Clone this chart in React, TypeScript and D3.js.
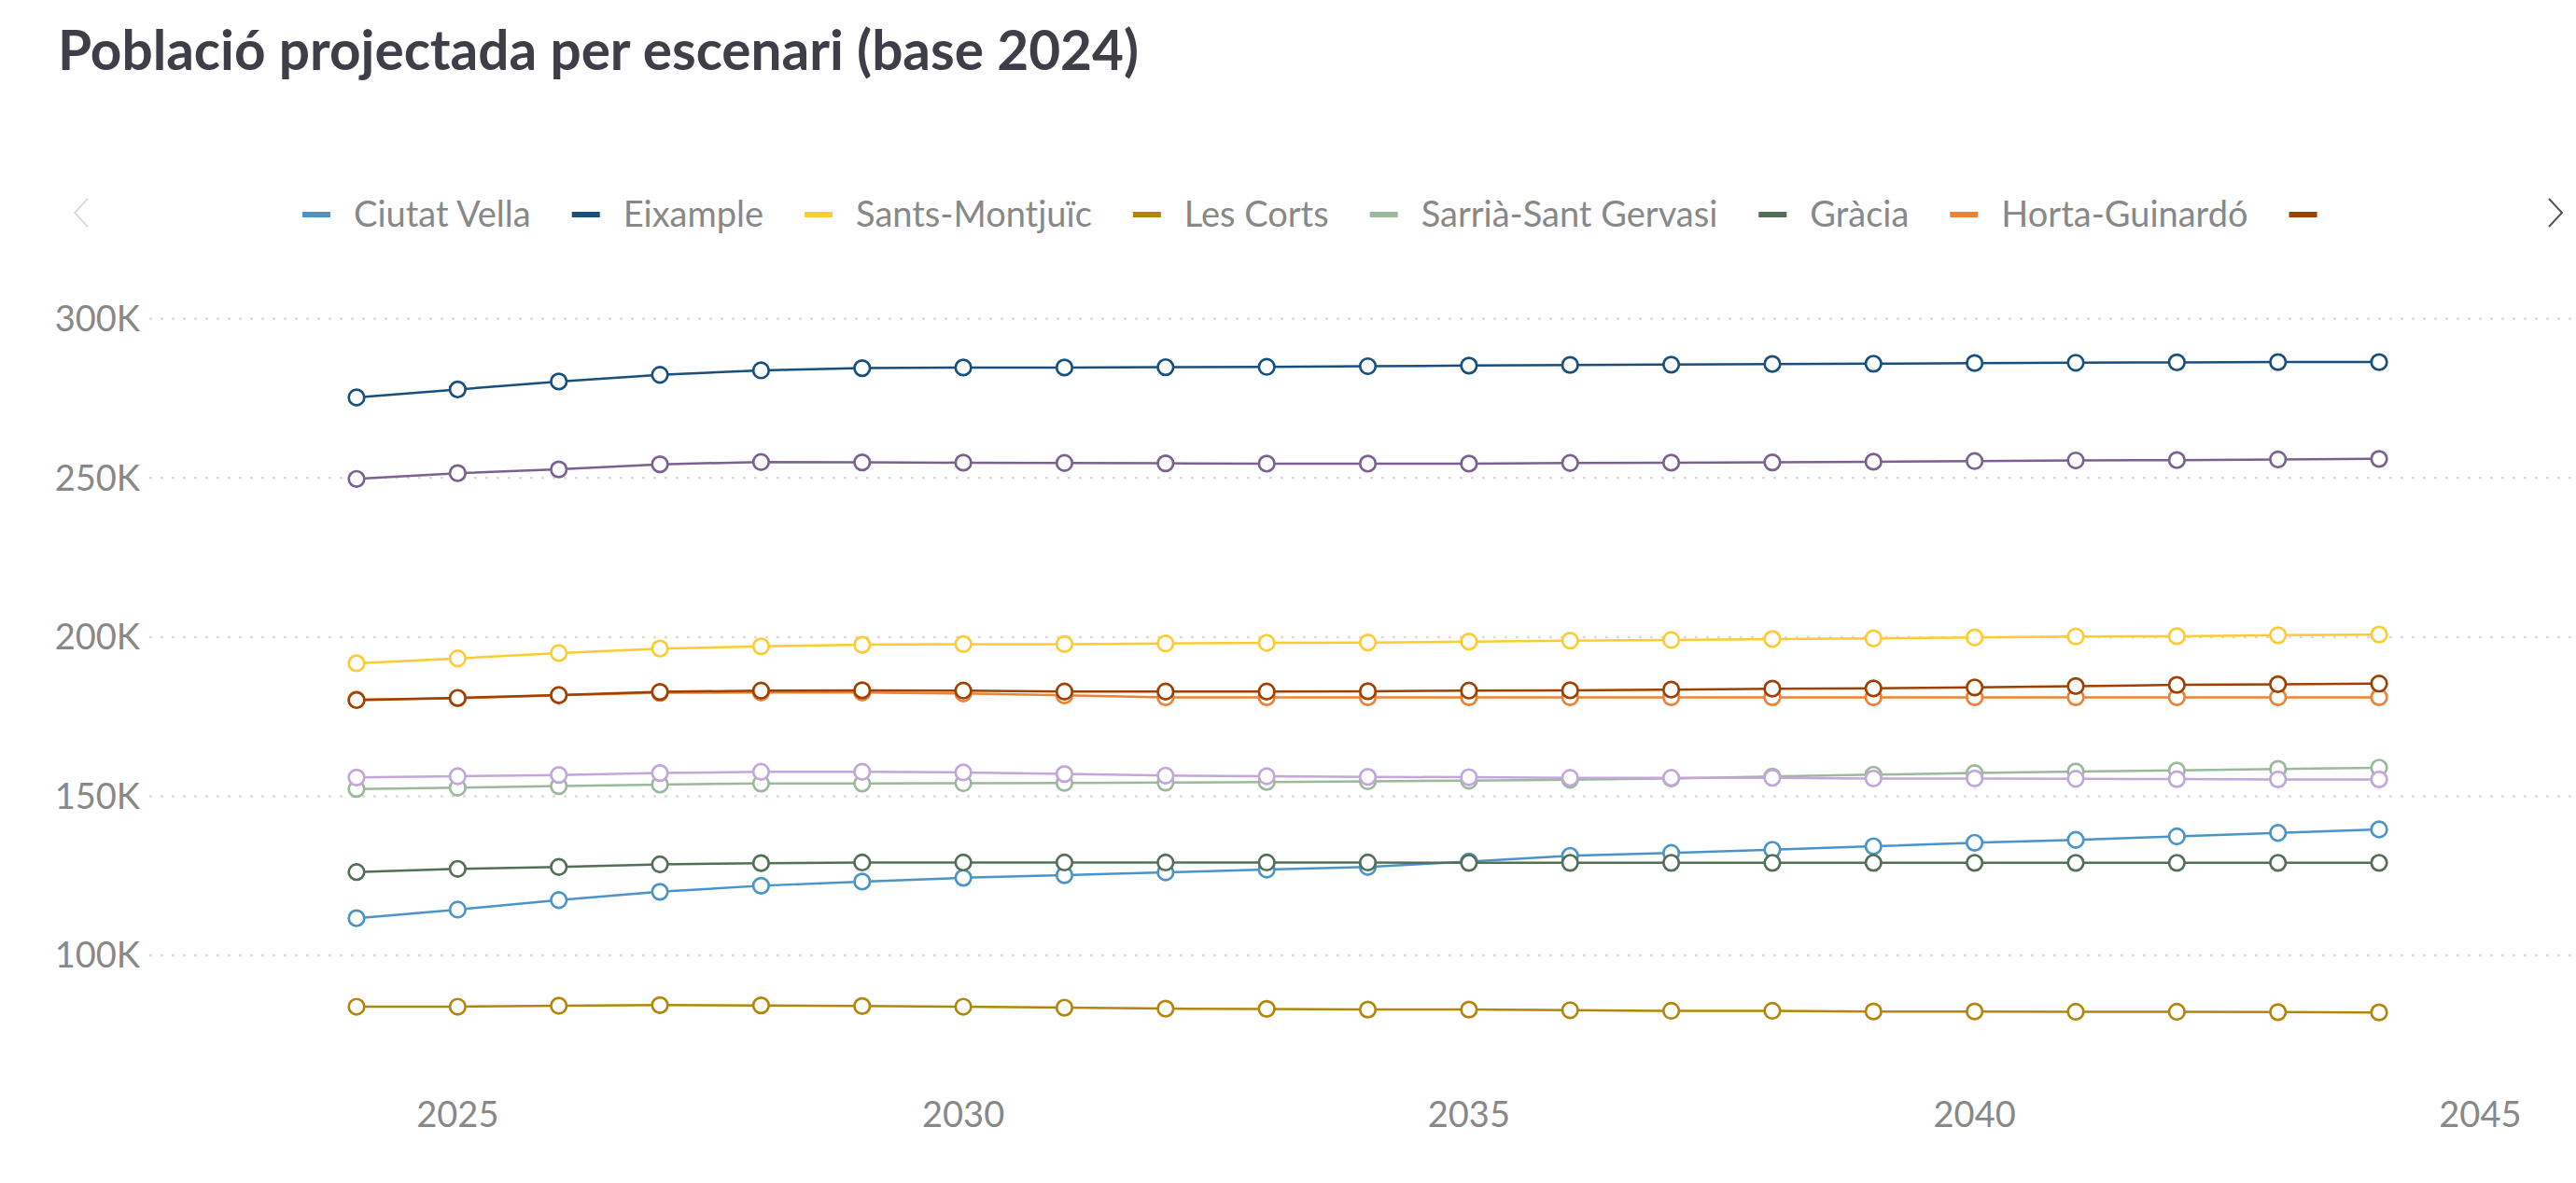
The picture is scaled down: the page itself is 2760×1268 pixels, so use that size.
import { useEffect, useRef } from "react";
import * as d3 from "d3";

// projection years and district series (population, persons)
const years = [2024, 2025, 2026, 2027, 2028, 2029, 2030, 2031, 2032, 2033, 2034, 2035, 2036, 2037, 2038, 2039, 2040, 2041, 2042, 2043, 2044];

const ciutatVella = [111700, 114400, 117400, 120000, 121900, 123200, 124400, 125200, 126100, 127000, 127800, 129500, 131300, 132200, 133200, 134300, 135400, 136300, 137400, 138500, 139600];
const eixample = [275300, 277800, 280300, 282400, 283800, 284500, 284700, 284700, 284800, 284900, 285100, 285300, 285500, 285600, 285800, 285900, 286100, 286200, 286300, 286400, 286400];
const santsMontjuic = [191800, 193300, 195000, 196400, 197100, 197600, 197800, 197800, 198000, 198200, 198300, 198600, 198900, 199100, 199400, 199600, 199900, 200200, 200300, 200600, 200800];
const lesCorts = [83900, 83900, 84200, 84400, 84300, 84100, 83900, 83600, 83300, 83200, 83000, 83000, 82800, 82600, 82600, 82400, 82400, 82300, 82300, 82200, 82100];
const sarriaSantGervasi = [152300, 152700, 153200, 153700, 154000, 154000, 154100, 154200, 154300, 154500, 154700, 154900, 155200, 155600, 156200, 156800, 157300, 157800, 158100, 158600, 159000];
const gracia = [126200, 127200, 127800, 128600, 129000, 129200, 129200, 129200, 129200, 129200, 129200, 129100, 129100, 129100, 129100, 129100, 129100, 129100, 129100, 129100, 129100];
const hortaGuinardo = [180400, 180800, 181700, 182500, 182600, 182600, 182300, 181700, 181100, 181100, 181100, 181100, 181100, 181100, 181100, 181100, 181100, 181100, 181100, 181100, 181100];
const nouBarris = [180200, 180900, 181800, 182800, 183200, 183300, 183200, 182900, 182900, 182900, 183000, 183200, 183300, 183500, 183800, 183900, 184200, 184600, 185000, 185200, 185400];
const santAndreu = [155900, 156300, 156700, 157300, 157700, 157700, 157500, 157000, 156500, 156300, 156100, 156000, 155800, 155800, 155800, 155600, 155600, 155500, 155400, 155300, 155300];
const santMarti = [249700, 251500, 252700, 254300, 255000, 254900, 254800, 254700, 254600, 254500, 254500, 254500, 254700, 254800, 254900, 255100, 255300, 255500, 255600, 255800, 256000];

const districtNames = ["Ciutat Vella", "Eixample", "Sants-Montjuïc", "Les Corts", "Sarrià-Sant Gervasi", "Gràcia", "Horta-Guinardó", "Nou Barris", "Sant Andreu", "Sant Martí"];
const districtValues = [ciutatVella, eixample, santsMontjuic, lesCorts, sarriaSantGervasi, gracia, hortaGuinardo, nouBarris, santAndreu, santMarti];
const districtColors = ["#4a94c9", "#17507f", "#ffcb33", "#b3860b", "#9bb99b", "#536f55", "#eb8236", "#a04000", "#c3a6dc", "#7b6192"];

// legend page: the first 7 names fit, the 8th only shows its swatch
const legendFullItems = 7;

const yTicks = [100000, 150000, 200000, 250000, 300000];
const xTicks = [2025, 2030, 2035, 2040, 2045];

const title = "Població projectada per escenari (base 2024)";

const W = 2760;
const H = 1268;
const FONT = "Lato, 'Noto Sans', sans-serif";

const Chart = () => {
  const ref = useRef<SVGSVGElement>(null);

  useEffect(() => {
    const svg = d3.select(ref.current);
    svg.selectAll("*").remove();

    const x = d3.scaleLinear().domain([2024, 2045]).range([382, 2657.4]);
    const y = d3.scaleLinear().domain([50000, 300000]).range([1194.7, 341.7]);

    // title
    svg.append("text")
      .attr("x", 62)
      .attr("y", 75)
      .attr("font-family", FONT)
      .attr("font-weight", 700)
      .attr("font-size", 58.5)
      .attr("fill", "#3e3e48")
      .text(title);

    // legend (scrolling page)
    const legend = svg.append("g");
    const legendY = 230;
    let cursor = 324;
    districtNames.slice(0, legendFullItems + 1).forEach((name, i) => {
      legend.append("rect")
        .attr("x", cursor)
        .attr("y", legendY - 3)
        .attr("width", 30)
        .attr("height", 6)
        .attr("fill", districtColors[i]);
      if (i >= legendFullItems) return;
      const t = legend.append("text")
        .attr("x", cursor + 55)
        .attr("y", legendY)
        .attr("dy", "0.35em")
        .attr("font-family", FONT)
        .attr("font-size", 38)
        .attr("fill", "#888888")
        .text(name);
      const w = (t.node() as SVGTextElement).getComputedTextLength();
      cursor += 55 + w + 44;
    });

    legend.append("polyline")
      .attr("points", "94,213 80,228 94,243")
      .attr("fill", "none")
      .attr("stroke", "#dddddd")
      .attr("stroke-width", 2);
    legend.append("polyline")
      .attr("points", "2731,213 2745,228 2731,243")
      .attr("fill", "none")
      .attr("stroke", "#555555")
      .attr("stroke-width", 2);

    // grid + y labels
    const grid = svg.append("g");
    grid.selectAll("line")
      .data(yTicks)
      .join("line")
      .attr("x1", 160)
      .attr("x2", 2755)
      .attr("y1", (d) => y(d))
      .attr("y2", (d) => y(d))
      .attr("stroke", "#dcdcdc")
      .attr("stroke-width", 2.5)
      .attr("stroke-dasharray", "3,9");
    grid.selectAll("text")
      .data(yTicks)
      .join("text")
      .attr("x", 150)
      .attr("y", (d) => y(d))
      .attr("dy", "0.35em")
      .attr("text-anchor", "end")
      .attr("font-family", FONT)
      .attr("font-size", 38)
      .attr("fill", "#888888")
      .text((d) => `${d / 1000}K`);

    // x labels
    svg.append("g")
      .selectAll("text")
      .data(xTicks)
      .join("text")
      .attr("x", (d) => x(d))
      .attr("y", 1208)
      .attr("text-anchor", "middle")
      .attr("font-family", FONT)
      .attr("font-size", 38)
      .attr("fill", "#888888")
      .text((d) => String(d));

    // series
    const line = d3.line<number>()
      .x((_, i) => x(years[i]))
      .y((d) => y(d));

    districtValues.forEach((vals, i) => {
      const g = svg.append("g");
      g.append("path")
        .datum(vals)
        .attr("fill", "none")
        .attr("stroke", districtColors[i])
        .attr("stroke-width", 2.5)
        .attr("d", line);
      g.selectAll("circle")
        .data(vals)
        .join("circle")
        .attr("cx", (_, j) => x(years[j]))
        .attr("cy", (d) => y(d))
        .attr("r", 8.3)
        .attr("fill", "#ffffff")
        .attr("stroke", districtColors[i])
        .attr("stroke-width", 2.7);
    });
  }, []);

  return <svg ref={ref} width={W} height={H} style={{ display: "block" }} />;
};

export default function App() {
  useEffect(() => {
    document.body.style.margin = "0";
  }, []);
  return <Chart />;
}
